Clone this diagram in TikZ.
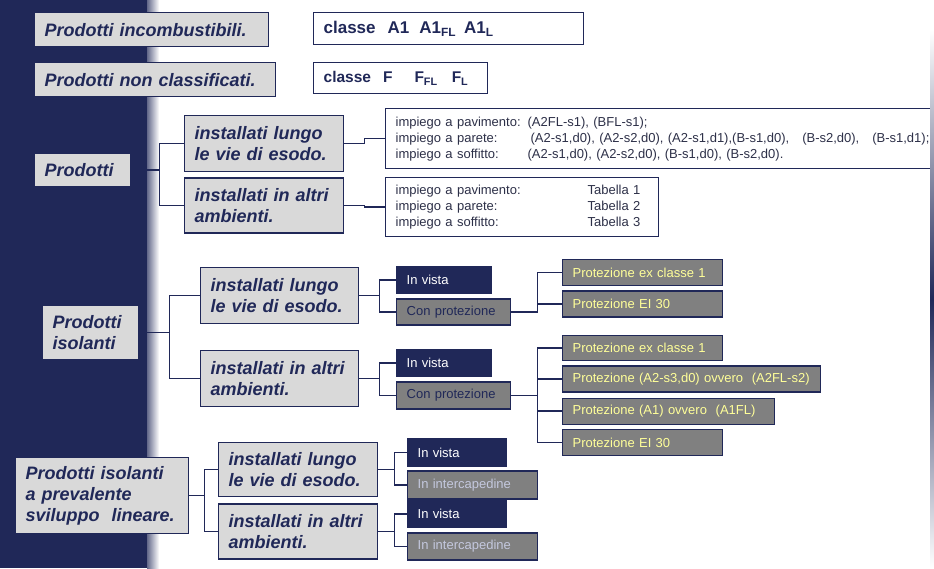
\documentclass[tikz,border=0pt]{standalone}
\usepackage{fontspec}
\setmainfont{Liberation Sans}
\usetikzlibrary{positioning}
\definecolor{navy}{RGB}{32,40,88}
\definecolor{lgray}{RGB}{217,217,217}
\definecolor{mgray}{RGB}{128,128,128}
\definecolor{pyellow}{RGB}{255,255,153}
\definecolor{pale}{RGB}{196,200,222}
\definecolor{ink}{RGB}{45,48,72}
\newcommand{\lbl}[2][132pt]{\makebox[#1][l]{#2}}

\tikzset{
  base/.style={draw=navy, line width=1.3pt, anchor=north west, align=left, inner xsep=10pt, inner ysep=0pt},
  gbox/.style={base, fill=lgray, text=navy, font=\fontsize{18}{21}\selectfont\bfseries\itshape},
  cbox/.style={base, fill=white, text=navy},
  tbox/.style={base, fill=white, text=ink, font=\fontsize{13}{16}\selectfont},
  vbox/.style={base, fill=navy, text=white, font=\fontsize{13}{16}\selectfont},
  dbox/.style={base, fill=mgray, text=navy, font=\fontsize{13}{16}\selectfont},
  pbox/.style={dbox, text=pyellow},
  ibox/.style={dbox, text=pale},
  sz/.style 2 args={text width=#1, minimum height=#2},
  link/.style={draw=navy, line width=1.6pt}
}

\begin{document}
\begin{tikzpicture}[x=1pt, y=-1pt]
    \useasboundingbox (0,0) rectangle (934,568);
    \clip (0,0) rectangle (934,568);
    \fill[navy] (0,0) rectangle (147,568);
    \shade[left color=navy!70, right color=white] (147,0) rectangle (159,568);

    % top rows
    \node[gbox, sz={214pt}{34pt}] (inc) at (34,12) {Prodotti incombustibili.};
    \node[gbox, sz={221pt}{34pt}] (ncl) at (34,62) {Prodotti non classificati.};
    \node[cbox, sz={250pt}{32pt}, font=\fontsize{17}{20}\selectfont\bfseries] (clA) at (313,12)
      {classe\hspace{12pt}A1\hspace{10pt}A1\textsubscript{FL}\hspace{8pt}A1\textsubscript{L}};
    \node[cbox, sz={154pt}{31pt}, font=\fontsize{15.5}{18}\selectfont\bfseries] (clF) at (313,62)
      {classe\hspace{12pt}F\hspace{22pt}F\textsubscript{FL}\hspace{14pt}F\textsubscript{L}};

    % Prodotti
    \node[gbox, sz={76pt}{33pt}] (prod) at (34,153) {Prodotti};
    \node[gbox, sz={139pt}{56pt}] (lungoA) at (184,115) {installati lungo\\le vie di esodo.};
    \node[gbox, sz={139pt}{55pt}, below right=5pt and 0pt of lungoA.south west] (altriA) {installati in altri\\ambienti.};
    \node[tbox, sz={540pt}{60pt}] (impA) at (385,108)
      {\lbl{impiego a pavimento:}(A2FL-s1), (BFL-s1);\\
       \lbl{impiego a parete:}\hspace{3pt}(A2-s1,d0), (A2-s2,d0), (A2-s1,d1),(B-s1,d0),\ \ \ (B-s2,d0),\ \ \ (B-s1,d1);\\
       \lbl{impiego a soffitto:}(A2-s1,d0), (A2-s2,d0), (B-s1,d0), (B-s2,d0).};
    \node[tbox, sz={253pt}{59pt}] (impB) at (385,177)
      {\lbl[192pt]{impiego a pavimento:}Tabella 1\\
       \lbl[192pt]{impiego a parete:}Tabella 2\\
       \lbl[192pt]{impiego a soffitto:}Tabella 3};

    \draw[link] (prod.east) -- ++(28,0) coordinate (jA) |- (lungoA.west);
    \draw[link] (jA) |- (altriA.west);
    \draw[link] (lungoA.east) -- ++(20,0) |- (impA.west);
    \draw[link] (altriA.east) -- ++(20,0) |- (impB.west);

    % Prodotti isolanti
    \node[gbox, sz={76pt}{54pt}] (iso) at (42,305) {Prodotti\\isolanti};
    \node[gbox, sz={138pt}{56pt}] (lungoB) at (200,267) {installati lungo\\le vie di esodo.};
    \node[gbox, sz={138pt}{56pt}] (altriB) at (200,350) {installati in altri\\ambienti.};
    \node[vbox, sz={75pt}{27pt}] (vistaB) at (396,266) {In vista};
    \node[dbox, sz={94pt}{26pt}, below right=4pt and 0pt of vistaB.south west] (conB) {Con protezione};
    \node[vbox, sz={75pt}{27pt}] (vistaC) at (396,349) {In vista};
    \node[dbox, sz={94pt}{27pt}, below right=4pt and 0pt of vistaC.south west] (conC) {Con protezione};
    \node[pbox, sz={140pt}{26pt}] (protB1) at (562,259) {Protezione ex classe 1};
    \node[pbox, sz={140pt}{26pt}, below right=4pt and 0pt of protB1.south west] (protB2) {Protezione EI 30};
    \node[pbox, sz={140pt}{25pt}] (protC1) at (562,335) {Protezione ex classe 1};
    \node[pbox, sz={238pt}{26pt}, below right=4pt and 0pt of protC1.south west] (protC2) {Protezione (A2-s3,d0) ovvero\ \ (A2FL-s2)};
    \node[pbox, sz={192pt}{26pt}, below right=5pt and 0pt of protC2.south west] (protC3) {Protezione (A1) ovvero\ \ (A1FL)};
    \node[pbox, sz={140pt}{26pt}, below right=4pt and 0pt of protC3.south west] (protC4) {Protezione EI 30};

    \draw[link] (iso.east) -- ++(30,0) coordinate (jB) |- (lungoB.west);
    \draw[link] (jB) |- (altriB.west);
    \draw[link] (lungoB.east) -- ++(20,0) coordinate (jC) |- (vistaB.west);
    \draw[link] (jC) |- (conB.west);
    \draw[link] (altriB.east) -- ++(20,0) coordinate (jD) |- (vistaC.west);
    \draw[link] (jD) |- (conC.west);
    \draw[link] (conB.east) -- ++(26,0) coordinate (jE) |- (protB1.west);
    \draw[link] (jE) |- (protB2.west);
    \draw[link] (conC.east) -- ++(26,0) coordinate (jF) |- (protC1.west);
    \draw[link] (jF) |- (protC2.west);
    \draw[link] (jF) |- (protC3.west);
    \draw[link] (jF) |- (protC4.west);

    % sviluppo lineare
    \node[gbox, sz={153pt}{76pt}] (lin) at (15,457) {Prodotti isolanti\\a prevalente\\sviluppo\ \ lineare.};
    \node[gbox, sz={139pt}{54pt}] (lungoD) at (218,442) {installati lungo\\le vie di esodo.};
    \node[gbox, sz={139pt}{55pt}, below right=6pt and 0pt of lungoD.south west] (altriD) {installati in altri\\ambienti.};
    \node[vbox, sz={79pt}{28pt}] (vistaD) at (407,438) {In vista};
    \node[ibox, sz={110pt}{28pt}, below right=3pt and 0pt of vistaD.south west] (intD) {In intercapedine};
    \node[vbox, sz={79pt}{27pt}] (vistaE) at (407,500) {In vista};
    \node[ibox, sz={110pt}{27pt}, below right=4pt and 0pt of vistaE.south west] (intE) {In intercapedine};

    \draw[link] (lin.east) -- ++(15,0) coordinate (jG) |- (lungoD.west);
    \draw[link] (jG) |- (altriD.west);
    \draw[link] (lungoD.east) -- ++(16,0) coordinate (jH) |- (vistaD.west);
    \draw[link] (jH) |- (intD.west);
    \draw[link] (altriD.east) -- ++(16,0) coordinate (jI) |- (vistaE.west);
    \draw[link] (jI) |- (intE.west);

    % right edge strip
    \shade[top color=white, bottom color=navy] (930,30) rectangle (934,300);
    \shade[top color=navy, bottom color=white] (930,300) rectangle (934,568);
\end{tikzpicture}
\end{document}
